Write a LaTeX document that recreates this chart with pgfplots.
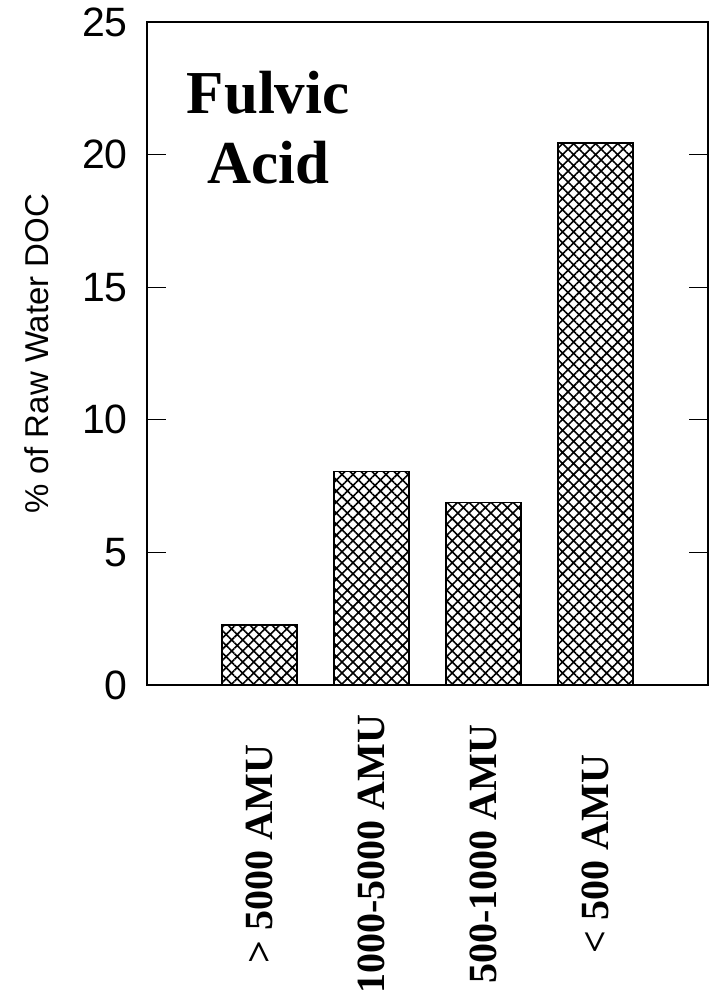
\documentclass[border=0pt]{standalone}
\usepackage{fontspec}
\setmainfont{Liberation Sans}
\newfontfamily\tms{Liberation Serif}
\usepackage{pgfplots}
\pgfplotsset{compat=1.18}
\usetikzlibrary{patterns.meta}
\begin{document}
\begin{tikzpicture}
\path[use as bounding box] (-147pt,-319pt) rectangle (562pt,685pt);
\begin{axis}[
  at={(0,0)}, anchor=south west,
  scale only axis,
  width=561pt, height=663pt,
  xmin=-1, xmax=4,
  ymin=0, ymax=25,
  ytick={0,5,10,15,20,25},
  ytick pos=both,
  tick align=inside,
  major tick length=19pt,
  y tick style={black, line width=0.8pt},
  xtick={0,1,2,3},
  x tick style={draw=none},
  xticklabels={{> 5000 AMU},{1000-5000 AMU},{500-1000 AMU},{< 500 AMU}},
  xticklabel style={font=\tms\bfseries\fontsize{40}{44}\selectfont, yshift=-150pt, rotate=90, anchor=center},
  yticklabel style={font=\fontsize{41}{48}\selectfont, anchor=east, inner sep=0pt, xshift=-19pt},
  /pgf/number format/assume math mode=true,
  axis line style={line width=2pt},
  ylabel={\% of Raw Water DOC},
  ylabel style={font=\fontsize{33}{38}\selectfont, at={(axis description cs:-0.196,0.5)}, anchor=center, rotate=0},
  ybar, bar width=75pt,
]
\addplot[draw=black, line width=1.8pt, pattern={Hatch[angle=45, distance=7.8pt, line width=1.6pt]}, pattern color=black]
  coordinates {(0,2.25) (1,8.05) (2,6.88) (3,20.45)};
\node[font=\tms\bfseries\fontsize{61}{70}\selectfont, align=center] at (rel axis cs:0.216,0.84) {Fulvic\\Acid};
\end{axis}
\end{tikzpicture}
\end{document}
